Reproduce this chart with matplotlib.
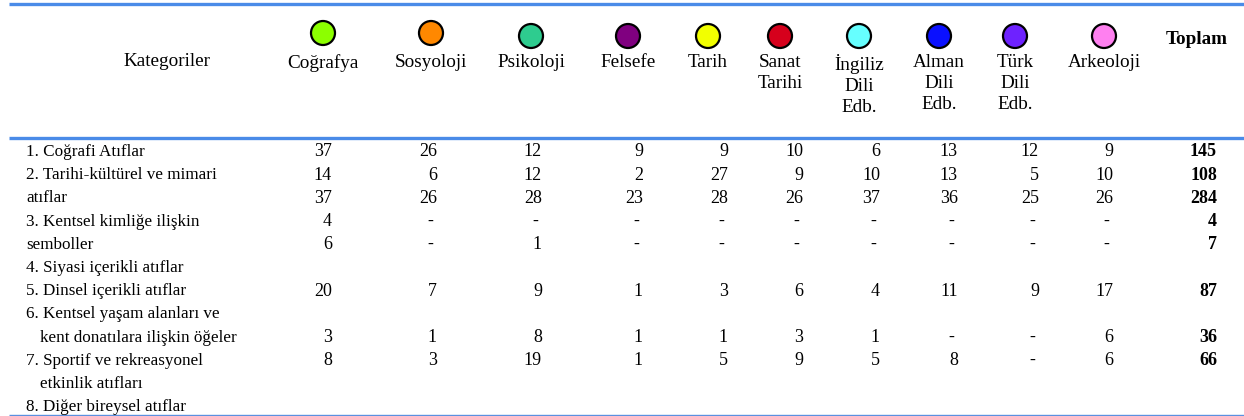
import matplotlib.pyplot as plt
from matplotlib.patches import Circle

# column headers (department names) and their marker colours
departments = ["Coğrafya", "Sosyoloji", "Psikoloji", "Felsefe", "Tarih",
               "Sanat\nTarihi", "İngiliz\nDili\nEdb.", "Alman\nDili\nEdb.",
               "Türk\nDili\nEdb.", "Arkeoloji"]
dept_colors = ["#8cff00", "#ff8800", "#2ecc8f", "#800080", "#f2ff00",
               "#d6001c", "#66ffff", "#0a10ff", "#6e22ff", "#ff80f0"]

# row labels, one entry per printed line
row_labels = ["1. Coğrafi Atıflar", "2. Tarihi-kültürel ve mimari", "atıflar",
              "3. Kentsel kimliğe ilişkin", "semboller", "4. Siyasi içerikli atıflar",
              "5. Dinsel içerikli atıflar", "6. Kentsel yaşam alanları ve",
              "kent donatılara ilişkin öğeler", "7. Sportif ve rekreasyonel",
              "etkinlik atıfları", "8. Diğer bireysel atıflar"]
row_indent = [0, 0, 0, 0, 0, 0, 0, 0, 1, 0, 1, 0]

# values per column, one per printed line (None = blank, 0 = "-")
cografya = [37, 14, 37, 4, 6, None, 20, None, 3, 8, None, None]
sosyoloji = [26, 6, 26, 0, 0, None, 7, None, 1, 3, None, None]
psikoloji = [12, 12, 28, 0, 1, None, 9, None, 8, 19, None, None]
felsefe = [9, 2, 23, 0, 0, None, 1, None, 1, 1, None, None]
tarih = [9, 27, 28, 0, 0, None, 3, None, 1, 5, None, None]
sanat_tarihi = [10, 9, 26, 0, 0, None, 6, None, 3, 9, None, None]
ingiliz = [6, 10, 37, 0, 0, None, 4, None, 1, 5, None, None]
alman = [13, 13, 36, 0, 0, None, 11, None, 0, 8, None, None]
turk = [12, 5, 25, 0, 0, None, 9, None, 0, 0, None, None]
arkeoloji = [9, 10, 26, 0, 0, None, 17, None, 6, 6, None, None]
toplam = [145, 108, 284, 4, 7, None, 87, None, 36, 66, None, None]

columns = [cografya, sosyoloji, psikoloji, felsefe, tarih, sanat_tarihi,
           ingiliz, alman, turk, arkeoloji]

# layout (pixels)
W, H = 1244, 416
head_x = [323, 431, 531, 628, 708, 780, 859, 939, 1015, 1104]
circle_y = [33, 33, 36, 36, 36, 36, 36, 36, 36, 36]
num_right = [332, 437, 542, 643, 728, 803, 880, 958, 1039, 1113]
total_right = 1217
row_y0, row_dy = 152, 23.2
serif = "Liberation Serif"

fig = plt.figure(figsize=(W / 100, H / 100), dpi=100)
ax = fig.add_axes([0, 0, 1, 1])
ax.set_xlim(0, W)
ax.set_ylim(H, 0)
ax.axis("off")

# rules
ax.plot([9, W], [3.5, 3.5], color="#4a8be8", lw=2.4, solid_capstyle="butt")
ax.plot([9, W], [138, 138], color="#4a8be8", lw=2.4, solid_capstyle="butt")
ax.plot([9, W], [414.5, 414.5], color="#5a90e0", lw=1.0, solid_capstyle="butt")

# header
ax.text(167, 62, "Kategoriler", fontsize=13.8, family=serif, ha="center", va="center")
for x, cy, name, col in zip(head_x, circle_y, departments, dept_colors):
    ax.add_patch(Circle((x, cy), 12, facecolor=col, edgecolor="black", lw=1.6))
    ax.text(x, 54, name, fontsize=13.8, family=serif, ha="center", va="top",
            linespacing=1.29)
ax.text(1197, 40, "Toplam", fontsize=13.8, family=serif, fontweight="bold",
        ha="center", va="center")

# body
for i, label in enumerate(row_labels):
    y = row_y0 + i * row_dy
    ax.text(26 + 14 * row_indent[i], y, label, fontsize=12.3, family=serif,
            ha="left", va="center")
    for col, xr in zip(columns, num_right):
        v = col[i]
        if v is None:
            continue
        if v == 0:
            ax.text(xr - 4, y, "-", fontsize=13, family=serif, ha="right", va="center")
        else:
            ax.text(xr, y, str(v), fontsize=13, family=serif, ha="right", va="center")
    if toplam[i] is not None:
        ax.text(total_right, y, str(toplam[i]), fontsize=13, family=serif,
                fontweight="bold", ha="right", va="center")

fig.savefig("out.png", dpi=100)
